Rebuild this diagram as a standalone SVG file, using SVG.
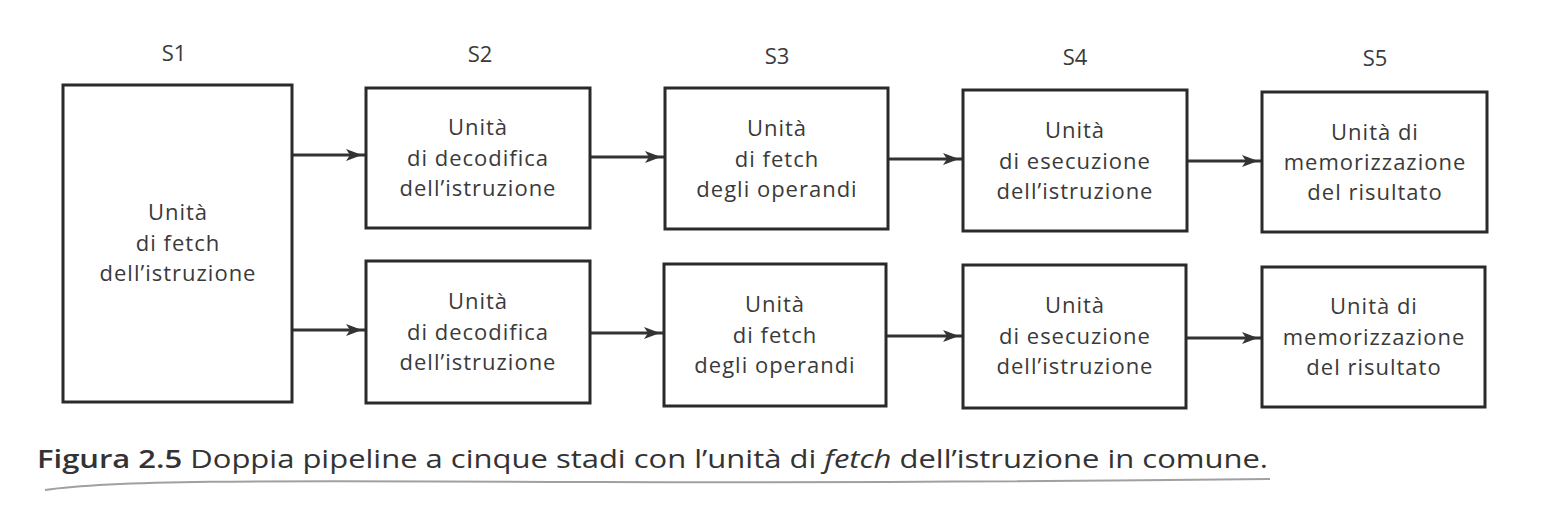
<svg xmlns="http://www.w3.org/2000/svg" width="1561" height="520" viewBox="0 0 1561 520">
<style>
.box{fill:#fff;stroke:#2a2a2a;stroke-width:3}
.t{font-family:"Open Sans","Noto Sans",sans-serif;font-size:22px;letter-spacing:1px;fill:#3a3a3a;text-anchor:middle}
.lab{font-family:"Open Sans","Noto Sans",sans-serif;font-size:22px;fill:#3a3a3a;text-anchor:middle}
.c{stroke:#333;stroke-width:3;fill:none}
.cap{font-family:"Open Sans","Noto Sans",sans-serif;font-size:25px;fill:#333}
</style>
<defs>
<marker id="ah" markerWidth="22" markerHeight="12" refX="20" refY="6" orient="auto" markerUnits="userSpaceOnUse">
<path d="M0,0 L16,6 L0,12 L4,6 Z" fill="#333"/>
</marker>
</defs>
<rect width="1561" height="520" fill="#fff"/>
<g id="stage-labels">
<text class="lab" x="174" y="61">S1</text>
<text class="lab" x="480" y="62">S2</text>
<text class="lab" x="777" y="64">S3</text>
<text class="lab" x="1075" y="65">S4</text>
<text class="lab" x="1375" y="66">S5</text>
</g>
<g id="connectors">
<path class="c" d="M292,155 H366" marker-end="url(#ah)"/>
<path class="c" d="M590,157 H665" marker-end="url(#ah)"/>
<path class="c" d="M888,159 H963" marker-end="url(#ah)"/>
<path class="c" d="M1187,161 H1262" marker-end="url(#ah)"/>
<path class="c" d="M292,330 H366" marker-end="url(#ah)"/>
<path class="c" d="M590,333 H664" marker-end="url(#ah)"/>
<path class="c" d="M886,336 H963" marker-end="url(#ah)"/>
<path class="c" d="M1186,338 H1262" marker-end="url(#ah)"/>
</g>
<g id="s1">
<rect class="box" x="63" y="85" width="229" height="317"/>
<text class="t" x="178" y="220">Unità</text>
<text class="t" x="178" y="251">di fetch</text>
<text class="t" x="178" y="281">dell’istruzione</text>
</g>
<g id="s2-top">
<rect class="box" x="366" y="88" width="224" height="140"/>
<text class="t" x="478" y="135">Unità</text>
<text class="t" x="478" y="166">di decodifica</text>
<text class="t" x="478" y="196">dell’istruzione</text>
</g>
<g id="s3-top">
<rect class="box" x="665" y="88" width="223" height="141"/>
<text class="t" x="777" y="136">Unità</text>
<text class="t" x="777" y="167">di fetch</text>
<text class="t" x="777" y="197">degli operandi</text>
</g>
<g id="s4-top">
<rect class="box" x="963" y="90" width="224" height="141"/>
<text class="t" x="1075" y="138">Unità</text>
<text class="t" x="1075" y="169">di esecuzione</text>
<text class="t" x="1075" y="199">dell’istruzione</text>
</g>
<g id="s5-top">
<rect class="box" x="1262" y="92" width="225" height="140"/>
<text class="t" x="1375" y="140">Unità di</text>
<text class="t" x="1375" y="170">memorizzazione</text>
<text class="t" x="1375" y="200">del risultato</text>
</g>
<g id="s2-bottom">
<rect class="box" x="366" y="261" width="224" height="142"/>
<text class="t" x="478" y="309">Unità</text>
<text class="t" x="478" y="340">di decodifica</text>
<text class="t" x="478" y="370">dell’istruzione</text>
</g>
<g id="s3-bottom">
<rect class="box" x="664" y="264" width="222" height="142"/>
<text class="t" x="775" y="312">Unità</text>
<text class="t" x="775" y="343">di fetch</text>
<text class="t" x="775" y="373">degli operandi</text>
</g>
<g id="s4-bottom">
<rect class="box" x="963" y="265" width="223" height="143"/>
<text class="t" x="1075" y="313">Unità</text>
<text class="t" x="1075" y="344">di esecuzione</text>
<text class="t" x="1075" y="374">dell’istruzione</text>
</g>
<g id="s5-bottom">
<rect class="box" x="1262" y="267" width="223" height="140"/>
<text class="t" x="1374" y="314">Unità di</text>
<text class="t" x="1374" y="345">memorizzazione</text>
<text class="t" x="1374" y="375">del risultato</text>
</g>
<g id="caption">
<text class="cap" x="37" y="468" textLength="1231" lengthAdjust="spacingAndGlyphs"><tspan font-weight="600">Figura 2.5</tspan> Doppia pipeline a cinque stadi con l’unità di <tspan font-style="italic">fetch</tspan> dell’istruzione in comune.</text>
<path d="M45,490 C120,479 300,481 600,482 S1100,481 1270,479" stroke="#777" stroke-width="2" fill="none" opacity="0.7"/>
</g>
</svg>
